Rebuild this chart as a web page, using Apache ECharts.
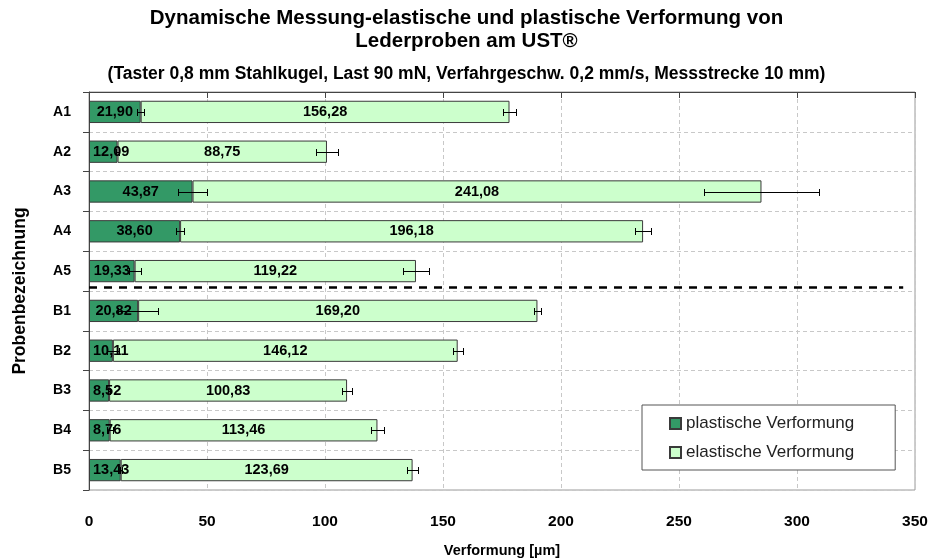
<!DOCTYPE html>
<html>
<head>
<meta charset="utf-8">
<script src="https://cdn.jsdelivr.net/npm/echarts@6/dist/echarts.min.js"></script>
<style>
html,body{margin:0;padding:0;background:#fff;}
#chart{width:933px;height:559px;}
</style>
</head>
<body>
<div id="chart"></div>
<script>
// Sample names (Probenbezeichnung)
var samples = ['A1', 'A2', 'A3', 'A4', 'A5', 'B1', 'B2', 'B3', 'B4', 'B5'];
// Plastic deformation [µm] and its standard deviation
var plastic    = [21.90, 12.09, 43.87, 38.60, 19.33, 20.82, 10.11, 8.52, 8.76, 13.43];
var plasticErr = [1.4, 0.5, 6.1, 1.8, 2.5, 8.4, 2.6, 0.5, 1.3, 0.5];
// Elastic deformation [µm] and the standard deviation of the total deformation
var elastic    = [156.28, 88.75, 241.08, 196.18, 119.22, 169.20, 146.12, 100.83, 113.46, 123.69];
var totalErr   = [2.7, 4.8, 24.3, 3.5, 5.5, 1.6, 2.2, 2.2, 2.6, 2.4];
// x axis ticks
var xTicks = [0, 50, 100, 150, 200, 250, 300, 350];
// separator between sample groups A and B (in category units from the top)
var groupSeparator = 4.9;

var FONT = '"Liberation Sans", Arial, sans-serif';

function fmt(v) { return v.toFixed(2).replace('.', ','); }

var plasticErrData = samples.map(function (s, i) { return [plastic[i], i, plasticErr[i]]; });
var totalErrData = samples.map(function (s, i) { return [plastic[i] + elastic[i], i, totalErr[i]]; });

// horizontal error bar with end caps
function renderErrorBar(params, api) {
  var c = api.value(0), cat = api.value(1), e = api.value(2);
  var p1 = api.coord([c - e, cat]);
  var p2 = api.coord([c + e, cat]);
  var y = Math.round(p1[1]) + 0.5;
  var x1 = Math.round(p1[0]) + 0.5, x2 = Math.round(p2[0]) + 0.5;
  var h = 3.5;
  var st = { stroke: '#000', lineWidth: 1 };
  return {
    type: 'group',
    children: [
      { type: 'line', shape: { x1: x1, y1: y, x2: x2, y2: y }, style: st },
      { type: 'line', shape: { x1: x1, y1: y - h, x2: x1, y2: y + h }, style: st },
      { type: 'line', shape: { x1: x2, y1: y - h, x2: x2, y2: y + h }, style: st }
    ]
  };
}

var chart = echarts.init(document.getElementById('chart'));

chart.setOption({
  animation: false,
  backgroundColor: '#fff',
  textStyle: { fontFamily: FONT },
  title: {
    left: 'center',
    top: 2,
    text: 'Dynamische Messung-elastische und plastische Verformung von\nLederproben am UST®',
    textStyle: { fontFamily: FONT, fontSize: 20.5, fontWeight: 'bold', color: '#000', lineHeight: 23 },
    subtext: '(Taster 0,8 mm Stahlkugel, Last 90 mN, Verfahrgeschw. 0,2 mm/s, Messstrecke 10 mm)',
    subtextStyle: { fontFamily: FONT, fontSize: 17.5, fontWeight: 'bold', color: '#000', lineHeight: 18 },
    itemGap: 12
  },
  legend: {
    orient: 'vertical',
    left: 642,
    top: 405,
    backgroundColor: '#fff',
    borderColor: '#555',
    borderWidth: 1,
    padding: [10, 41, 9, 27],
    icon: 'rect',
    itemWidth: 11,
    itemHeight: 11,
    itemGap: 12,
    textStyle: { fontFamily: FONT, fontSize: 17, color: '#222' },
    data: ['plastische Verformung', 'elastische Verformung']
  },
  grid: {
    left: 89, right: 18, top: 92, bottom: 69,
    outerBoundsMode: 'none',
    containLabel: false,
    show: true, borderColor: '#9a9a9a', borderWidth: 1, backgroundColor: '#fff'
  },
  xAxis: {
    type: 'value',
    min: 0, max: 350, interval: 50,
    name: 'Verformung [µm]',
    nameLocation: 'middle',
    nameGap: 53,
    nameTextStyle: { fontFamily: FONT, fontSize: 14.5, fontWeight: 'bold', color: '#000' },
    axisLine: { show: true, lineStyle: { color: '#444', width: 1 } },
    axisTick: { show: true, length: 6, lineStyle: { color: '#444' } },
    axisLabel: {
      margin: 24, color: '#000', fontSize: 15.5, fontWeight: 'bold', fontFamily: FONT,
      formatter: function (v) { return xTicks.indexOf(v) >= 0 ? String(v) : ''; }
    },
    splitLine: { show: true, lineStyle: { color: '#c8c8c8', type: [4, 3] } }
  },
  yAxis: [{
    type: 'category',
    data: samples,
    inverse: true,
    name: 'Probenbezeichnung',
    nameLocation: 'middle',
    nameRotate: 90,
    nameGap: 60,
    nameTextStyle: { fontFamily: FONT, fontSize: 17.5, fontWeight: 'bold', color: '#000' },
    axisLine: { show: true, lineStyle: { color: '#444', width: 1 } },
    axisTick: { show: true, length: 6, lineStyle: { color: '#444' } },
    axisLabel: { margin: 18, color: '#000', fontSize: 14, fontWeight: 'bold', fontFamily: FONT },
    splitLine: { show: true, lineStyle: { color: '#c8c8c8', type: [4, 3] } }
  }, {
    type: 'value',
    min: 0, max: samples.length,
    inverse: true,
    show: false
  }],
  series: [{
    name: 'plastische Verformung',
    type: 'bar',
    stack: 'total',
    barWidth: '56%',
    data: plastic,
    itemStyle: { color: '#339966', borderColor: '#3a3a3a', borderWidth: 1 },
    label: {
      show: true, position: 'inside', color: '#000', fontSize: 14.5, fontWeight: 'bold', fontFamily: FONT,
      formatter: function (p) { return fmt(p.value); }
    },
    // keep labels of narrow segments inside the plot area
    labelLayout: function (p) {
      var cx = p.rect.x + p.rect.width / 2;
      var minX = p.rect.x + 4 + p.labelRect.width / 2;
      return { x: Math.max(cx, minX), y: p.rect.y + p.rect.height / 2, align: 'center', verticalAlign: 'middle' };
    }
  }, {
    name: 'elastische Verformung',
    type: 'bar',
    stack: 'total',
    data: elastic,
    itemStyle: { color: '#ccffcc', borderColor: '#3a3a3a', borderWidth: 1 },
    label: {
      show: true, position: 'inside', color: '#000', fontSize: 14.5, fontWeight: 'bold', fontFamily: FONT,
      formatter: function (p) { return fmt(p.value); }
    }
  }, {
    name: 'plasticErr',
    type: 'custom',
    renderItem: renderErrorBar,
    encode: { x: 0, y: 1 },
    data: plasticErrData,
    z: 5
  }, {
    name: 'totalErr',
    type: 'custom',
    renderItem: renderErrorBar,
    encode: { x: 0, y: 1 },
    data: totalErrData,
    z: 5
  }, {
    name: 'separator',
    type: 'line',
    yAxisIndex: 1,
    data: [],
    silent: true,
    markLine: {
      symbol: 'none',
      silent: true,
      label: { show: false },
      lineStyle: { color: '#000', width: 2.5, type: [8, 7] },
      data: [[{ coord: [0, groupSeparator] }, { coord: [345, groupSeparator] }]]
    }
  }]
});
</script>
</body>
</html>
